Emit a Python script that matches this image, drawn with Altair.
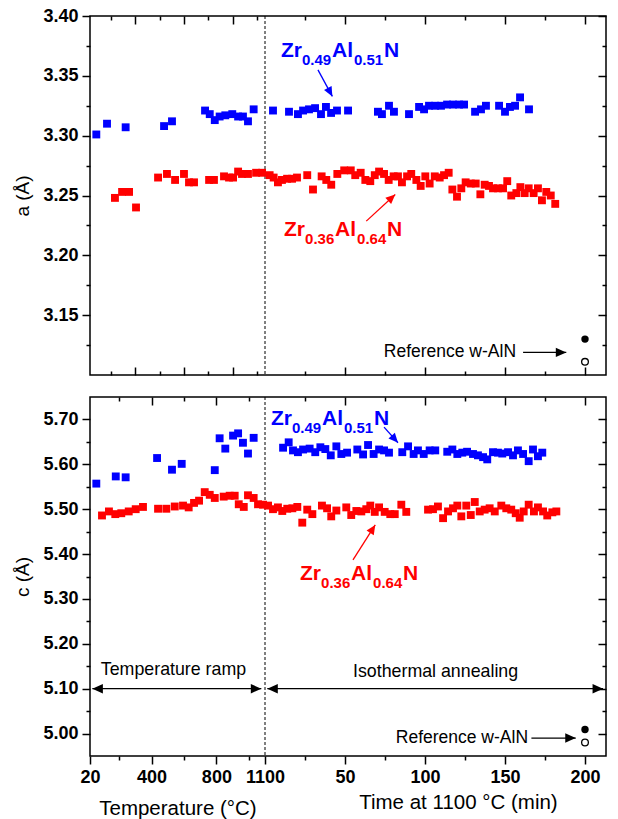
import json
import altair as alt
import pandas as pd

FONT = "Liberation Sans"
BLUE = "#0000FF"
RED = "#FF0000"

# ---------------- data ----------------
# Upper panel: lattice parameter a (Å)
a_blue_ramp_T = [59, 125, 240, 477, 526, 730, 759, 790, 820, 855, 898, 934, 964, 995, 1030]
a_blue_ramp_v = [3.301, 3.310, 3.307, 3.308, 3.312, 3.321, 3.318, 3.313, 3.316, 3.317, 3.318, 3.316, 3.316, 3.312, 3.322]
a_blue_iso_t = [5, 15, 20.6, 23.8, 27.5, 31.3, 35, 38.1, 41.3, 45, 51.9, 70.6, 73.1, 77.5, 80.6, 90, 96.3, 99.4,
                102.5, 106.3, 110, 113.8, 117.5, 121.3, 124.4, 131.3, 135, 138.1, 146.3, 150, 153.1, 156.3, 159.4, 165]
a_blue_iso_v = [3.321, 3.320, 3.318, 3.321, 3.322, 3.323, 3.318, 3.324, 3.319, 3.321, 3.321, 3.320, 3.318, 3.325,
                3.320, 3.318, 3.324, 3.322, 3.325, 3.325, 3.325, 3.326, 3.326, 3.326, 3.326, 3.320, 3.322, 3.325,
                3.325, 3.320, 3.324, 3.325, 3.332, 3.322]
a_red_ramp_T = [174, 218, 261, 304, 440, 495, 545, 600, 631, 662, 755, 785, 847, 878, 903, 934, 958, 995, 1045, 1082]
a_red_ramp_v = [3.248, 3.253, 3.253, 3.240, 3.265, 3.268, 3.263, 3.268, 3.261, 3.261, 3.263, 3.263, 3.266, 3.265,
                3.265, 3.270, 3.268, 3.268, 3.269, 3.269]
a_red_iso_t = [2.9, 5.4, 8.1, 10.6, 13.8, 16.9, 20.0, 26.4, 30.0, 35.4, 38.3, 41.4, 45.2, 49.5, 53.6, 56.4, 59.8,
               62.7, 65.8, 68.6, 71.3, 74.4, 77.3, 80.4, 83.1, 85.6, 88.8, 91.4, 94.6, 97.3, 100.2, 102.9, 106.1,
               109.2, 111.9, 114.8, 117.1, 120.0, 122.7, 125.4, 128.6, 131.7, 134.6, 137.3, 140.0, 142.5, 145.6,
               148.8, 151.4, 153.9, 157.1, 159.6, 162.3, 164.8, 167.9, 170.6, 173.1, 175.8, 178.6, 181.4]
a_red_iso_v = [3.267, 3.265, 3.261, 3.263, 3.264, 3.264, 3.265, 3.267, 3.255, 3.266, 3.263, 3.259, 3.268, 3.271,
               3.271, 3.267, 3.269, 3.263, 3.262, 3.267, 3.270, 3.268, 3.263, 3.266, 3.266, 3.261, 3.266, 3.268,
               3.263, 3.258, 3.266, 3.260, 3.266, 3.265, 3.267, 3.269, 3.255, 3.249, 3.256, 3.261, 3.260, 3.260,
               3.251, 3.259, 3.258, 3.256, 3.256, 3.256, 3.262, 3.250, 3.252, 3.257, 3.252, 3.256, 3.252, 3.256,
               3.246, 3.253, 3.250, 3.243]
a_ref_t = [200, 200]
a_ref_v = [3.130, 3.111]          # filled, open

# Lower panel: lattice parameter c (Å)
c_blue_ramp_T = [59, 179, 240, 434, 526, 586, 790, 820, 855, 903, 934, 964, 995, 1030]
c_blue_ramp_v = [5.557, 5.573, 5.571, 5.614, 5.588, 5.601, 5.587, 5.658, 5.635, 5.664, 5.669, 5.648, 5.624, 5.659]
c_blue_iso_t = [11.3, 14.8, 17.5, 20.6, 23.8, 27.9, 31.4, 34.6, 37.7, 41.1, 44.6, 47.7, 51.3, 57.7, 61.3, 64.4,
                67.9, 71.3, 74.4, 77.5, 85.8, 89.4, 92.9, 95.6, 99.2, 102.9, 106.4, 113.9, 117.1, 120.2, 123.3,
                126.3, 130.0, 133.1, 136.3, 138.9, 142.5, 145.6, 148.3, 151.9, 155.0, 158.1, 161.3, 164.8, 167.5,
                170.6, 173.3]
c_blue_iso_v = [5.637, 5.649, 5.631, 5.627, 5.633, 5.635, 5.627, 5.638, 5.634, 5.620, 5.640, 5.623, 5.626, 5.633,
                5.622, 5.643, 5.623, 5.633, 5.631, 5.626, 5.627, 5.640, 5.623, 5.631, 5.623, 5.631, 5.631, 5.628,
                5.633, 5.623, 5.626, 5.628, 5.623, 5.620, 5.616, 5.611, 5.627, 5.626, 5.624, 5.627, 5.620, 5.631,
                5.623, 5.607, 5.633, 5.618, 5.626]
c_red_ramp_T = [94, 137, 176, 213, 259, 302, 347, 440, 491, 543, 594, 629, 662, 693, 728, 759, 790, 845, 882, 913,
                938, 969, 995, 1030, 1057, 1088]
c_red_ramp_v = [5.486, 5.495, 5.489, 5.491, 5.495, 5.500, 5.505, 5.501, 5.501, 5.506, 5.508, 5.504, 5.514, 5.519,
                5.538, 5.532, 5.525, 5.528, 5.530, 5.530, 5.511, 5.505, 5.531, 5.525, 5.511, 5.510]
c_red_iso_t = [1.9, 5.0, 8.1, 10.8, 13.9, 17.1, 20.2, 23.3, 26.4, 29.6, 35.6, 38.8, 41.4, 44.6, 50.8, 53.9, 57.1,
               60.2, 63.3, 65.8, 68.6, 71.3, 74.8, 78.3, 81.1, 85.2, 88.3, 101.9, 105.0, 108.1, 111.3, 114.4,
               117.5, 120.2, 122.7, 125.8, 128.6, 131.1, 134.2, 137.3, 140.4, 143.6, 147.7, 150.8, 153.9, 156.7,
               159.2, 161.7, 164.8, 168.1, 170.6, 173.8, 176.4, 179.6, 182.1]
c_red_iso_v = [5.508, 5.500, 5.504, 5.496, 5.501, 5.502, 5.505, 5.470, 5.499, 5.489, 5.508, 5.502, 5.484, 5.497,
               5.504, 5.487, 5.496, 5.495, 5.500, 5.508, 5.494, 5.504, 5.494, 5.489, 5.489, 5.510, 5.494, 5.499,
               5.500, 5.506, 5.480, 5.495, 5.502, 5.508, 5.484, 5.508, 5.487, 5.516, 5.495, 5.499, 5.502, 5.495,
               5.508, 5.502, 5.499, 5.491, 5.481, 5.495, 5.510, 5.495, 5.504, 5.495, 5.486, 5.493, 5.495]
c_ref_t = [200, 200]
c_ref_v = [5.009, 4.980]

SERIES = ["Zr0.49Al0.51N", "Zr0.36Al0.64N"]

# tick labels / tick values
x_label_temps = [20, 400, 800, 1100]
x_label_times = [50, 100, 150, 200]
x_minor_temps = [200, 600, 1000]
x_minor_times = [25, 75, 125, 175]
top_temps_major = [300, 600, 900]
top_temps_minor = [150, 450, 750, 1050]
a_major = [3.15, 3.20, 3.25, 3.30, 3.35, 3.40]
a_minor = [3.125, 3.175, 3.225, 3.275, 3.325, 3.375]
c_major = [5.00, 5.10, 5.20, 5.30, 5.40, 5.50, 5.60, 5.70]
c_minor = [5.05, 5.15, 5.25, 5.35, 5.45, 5.55, 5.65]

# ---------------- geometry of the broken x axis ----------------
W, H = 516, 359
U_RAMP = 109.375                      # width of the ramp section in "minute" units
X_DOMAIN = [-U_RAMP, W / 1.6 - U_RAMP]
A_DOMAIN = [3.10, 3.40]
C_DOMAIN = [4.95, 5.75]


def u_T(temps):
    return [round((t - 1100.0) / (1100.0 - 20.0) * U_RAMP, 4) for t in temps]


def js(v):
    return json.dumps(v)


xscale = alt.Scale(domain=X_DOMAIN, nice=False, zero=False)


def tick_axis(orient, values, majors, inward, label_expr=None, title=None, title_padding=10):
    s = -1 if inward else 1
    a = dict(orient=orient, values=values, domain=False, grid=False, ticks=True,
             tickSize=alt.ExprRef(expr=f"indexof({js(majors)}, datum.value) >= 0 ? {8 * s} : {4 * s}"),
             tickColor="black", tickWidth=1.5, title=title)
    if label_expr:
        a.update(labels=True, labelExpr=label_expr, labelFont=FONT, labelFontSize=18,
                 labelFontWeight="bold", labelColor="black", labelPadding=4,
                 labelOverlap=False, labelFlush=False)
    else:
        a.update(labels=False)
    if title:
        a.update(titleFont=FONT, titleFontSize=19, titleFontWeight="normal", titleColor="black",
                 titlePadding=title_padding)
    return alt.Axis(**a)


def series_df(bT, bv, bt, btv, rT, rv, rt, rtv):
    rows = []
    for u, v in zip(u_T(bT), bv):
        rows.append((u, v, SERIES[0]))
    for u, v in zip(bt, btv):
        rows.append((u, v, SERIES[0]))
    for u, v in zip(u_T(rT), rv):
        rows.append((u, v, SERIES[1]))
    for u, v in zip(rt, rtv):
        rows.append((u, v, SERIES[1]))
    return pd.DataFrame(rows, columns=["u", "v", "series"])


HEAD = "M0,0L0.45,1L-0.45,1Z"


def arrow_layers(arr, yscale, ydom):
    import math
    px_u = W / (X_DOMAIN[1] - X_DOMAIN[0])
    px_v = H / (ydom[1] - ydom[0])
    df = pd.DataFrame(arr)
    heads = []
    for r in df.itertuples():
        def ang(ua, va, ub, vb):
            dx = (ub - ua) * px_u
            dy = -(vb - va) * px_v
            return math.degrees(math.atan2(dx, -dy)) % 360
        heads.append(dict(u=r.u1, v=r.v1, ang=ang(r.u0, r.v0, r.u1, r.v1), color=r.color, sz=r.sz))
        if r.double:
            heads.append(dict(u=r.u0, v=r.v0, ang=ang(r.u1, r.v1, r.u0, r.v0), color=r.color, sz=r.sz))
    hd = pd.DataFrame(heads)
    lines = alt.Chart(df).mark_rule(strokeWidth=1.3).encode(
        x=alt.X("u0:Q", scale=xscale, axis=None), y=alt.Y("v0:Q", scale=yscale, axis=None),
        x2="u1:Q", y2="v1:Q", color=alt.Color("color:N", scale=None))
    hl = alt.Chart(hd).mark_point(shape=HEAD, filled=True, opacity=1, strokeWidth=0).encode(
        x=alt.X("u:Q", scale=xscale, axis=None), y=alt.Y("v:Q", scale=yscale, axis=None),
        angle=alt.Angle("ang:Q", scale=None), color=alt.Color("color:N", scale=None),
        size=alt.Size("sz:Q", scale=None))
    return [lines, hl]


def formula_layers(lab, yscale):
    df = pd.DataFrame(lab)
    pieces = [("main1", 0, 21, 0), ("sub1", 21, 15, 8), ("main2", 51, 21, 0), ("sub2", 73, 15, 8),
              ("main3", 103, 21, 0)]
    out = []
    for field, dx, fs, dy in pieces:
        out.append(alt.Chart(df).mark_text(align="left", baseline="alphabetic", dx=dx, dy=dy, fontSize=fs,
                                           fontWeight="bold", font=FONT).encode(
            x=alt.X("u:Q", scale=xscale, axis=None), y=alt.Y("v:Q", scale=yscale, axis=None),
            text=f"{field}:N", color=alt.Color("color:N", scale=None)))
    return out


def text_layer(d, yscale, align, baseline, size):
    return alt.Chart(pd.DataFrame(d)).mark_text(align=align, baseline=baseline, fontSize=size, font=FONT,
                                                color="black").encode(
        x=alt.X("u:Q", scale=xscale, axis=None), y=alt.Y("v:Q", scale=yscale, axis=None), text="text:N")


def panel(df, ref_t, ref_v, ydom, ymaj, ymin, ytitle, xb_vals, xb_major, xb_label_expr,
          xt_vals, xt_major, arrows, labels, texts_right, texts_center, extra):
    yscale = alt.Scale(domain=ydom, nice=False, zero=False)
    yvals = ymaj + ymin
    ylab = f"indexof({js(ymaj)}, datum.value) >= 0 ? format(datum.value, '.2f') : ''"
    pts = alt.Chart(df).mark_square(size=62, opacity=1).encode(
        x=alt.X("u:Q", scale=xscale, axis=tick_axis("bottom", xb_vals, xb_major, xb_label_expr is None,
                                                      xb_label_expr)),
        y=alt.Y("v:Q", scale=yscale, axis=tick_axis("left", yvals, ymaj, False, ylab, ytitle)),
        color=alt.Color("series:N", scale=alt.Scale(domain=SERIES, range=[BLUE, RED]), legend=None))
    ref_fill = alt.Chart(pd.DataFrame({"u": ref_t[:1], "v": ref_v[:1]})).mark_circle(
        size=55, color="black", opacity=1).encode(
        x=alt.X("u:Q", scale=xscale, axis=tick_axis("top", xt_vals, xt_major, True)),
        y=alt.Y("v:Q", scale=yscale, axis=tick_axis("right", yvals, ymaj, True)))
    ref_open = alt.Chart(pd.DataFrame({"u": ref_t[1:], "v": ref_v[1:]})).mark_circle(
        size=45, fill="white", stroke="black", strokeWidth=1.3, opacity=1).encode(
        x=alt.X("u:Q", scale=xscale, axis=None), y=alt.Y("v:Q", scale=yscale, axis=None))
    dash = alt.Chart(pd.DataFrame({"u": [0.0]})).mark_rule(strokeDash=[3, 2], strokeWidth=1,
                                                            color="black").encode(
        x=alt.X("u:Q", scale=xscale, axis=None))
    layers = [dash, pts, ref_fill, ref_open]
    layers += arrow_layers(arrows, yscale, ydom)
    layers += formula_layers(labels, yscale)
    if texts_right:
        layers.append(text_layer(texts_right, yscale, "right", "middle", 17.5))
    if texts_center:
        layers.append(text_layer(texts_center, yscale, "center", "alphabetic", 17.8))
    for e in extra:
        layers.append(e)
    return alt.layer(*layers).properties(width=W, height=H).resolve_axis(x="independent", y="independent")


# ---- tick sets ----
top_x_vals = u_T(top_temps_major + top_temps_minor) + x_minor_times + x_label_times
top_x_major = u_T(top_temps_major) + x_label_times
bot_x_major = u_T(x_label_temps) + x_label_times
bot_x_vals = bot_x_major + u_T(x_minor_temps) + x_minor_times
bot_x_labels = [str(t) for t in x_label_temps] + [str(t) for t in x_label_times]
bot_label_expr = f"{js(bot_x_labels)}[indexof({js(bot_x_major)}, datum.value)] || ''"
bt_x_major = u_T([400, 800]) + x_label_times
bt_x_vals = bt_x_major + u_T([200, 600, 1000]) + x_minor_times

df_a = series_df(a_blue_ramp_T, a_blue_ramp_v, a_blue_iso_t, a_blue_iso_v,
                 a_red_ramp_T, a_red_ramp_v, a_red_iso_t, a_red_iso_v)
df_c = series_df(c_blue_ramp_T, c_blue_ramp_v, c_blue_iso_t, c_blue_iso_v,
                 c_red_ramp_T, c_red_ramp_v, c_red_iso_t, c_red_iso_v)

top = panel(
    df_a, a_ref_t, a_ref_v, A_DOMAIN, a_major, a_minor, "a (Å)",
    top_x_vals, top_x_major, None, top_x_vals, top_x_major,
    arrows=dict(u0=[33.1, 63.3, 161.3], v0=[3.355, 3.2286, 3.1189], u1=[42.1, 81.4, 188.3],
                v1=[3.3328, 3.2508, 3.1189], color=[BLUE, RED, "black"], double=[False, False, False],
                sz=[360, 360, 440]),
    labels=dict(u=[10.0, 11.9], v=[3.3658, 3.2158], color=[BLUE, RED], main1=["Zr", "Zr"],
                sub1=["0.49", "0.36"], main2=["Al", "Al"], sub2=["0.51", "0.64"], main3=["N", "N"]),
    texts_right=dict(u=[156.9], v=[3.1189], text=["Reference w-AlN"]),
    texts_center=None, extra=[])

xtitles = alt.Chart(pd.DataFrame({"u": [-54.4, 120.9], "text": ["Temperature (°C)", "Time at 1100 °C (min)"],
                                  "py": [418, 412]})).mark_text(
    align="center", baseline="alphabetic", fontSize=20.5, font=FONT, color="black").encode(
    x=alt.X("u:Q", scale=xscale, axis=None), y=alt.Y("py:Q", scale=None, axis=None), text="text:N")

bottom = panel(
    df_c, c_ref_t, c_ref_v, C_DOMAIN, c_major, c_minor, "c (Å)",
    bot_x_vals, bot_x_major, bot_label_expr, bt_x_vals, bt_x_major,
    arrows=dict(u0=[74.4, 55.0, -107.9, 1.45, 166.5], v0=[5.683, 5.387, 5.10, 5.10, 4.990],
                u1=[83.1, 68.9, -2.3, 211.3, 194.2], v1=[5.648, 5.465, 5.10, 5.10, 4.990],
                color=[BLUE, RED, "black", "black", "black"], double=[False, False, True, True, False],
                sz=[360, 360, 440, 440, 440]),
    labels=dict(u=[3.75, 21.9], v=[5.6866, 5.342], color=[BLUE, RED], main1=["Zr", "Zr"],
                sub1=["0.49", "0.36"], main2=["Al", "Al"], sub2=["0.51", "0.64"], main3=["N", "N"]),
    texts_right=dict(u=[164.4], v=[4.990], text=["Reference w-AlN"]),
    texts_center=dict(u=[-57.2, 106.6], v=[5.1295, 5.127], text=["Temperature ramp", "Isothermal annealing"]),
    extra=[xtitles])

chart = alt.vconcat(top, bottom, spacing=18).properties(
    padding={"left": 5, "top": -2, "right": 0, "bottom": 0}
).configure(font=FONT).configure_view(stroke="black", strokeWidth=1.5)

chart.save("out.html", embed_options={"renderer": "svg", "actions": False})
